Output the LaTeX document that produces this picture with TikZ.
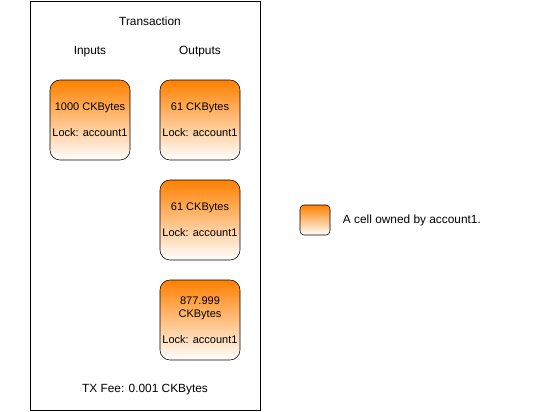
\documentclass[tikz,border=0pt]{standalone}
\usepackage{fontspec}
\setmainfont{Liberation Sans}
\usetikzlibrary{positioning}

\definecolor{cellorange}{RGB}{255,128,0}

\tikzset{
    cell/.style={draw, rounded corners=7.5pt, top color=cellorange, bottom color=white,
        minimum width=60pt, minimum height=60pt, align=center, inner sep=1pt,
        font=\fontsize{8.25}{10}\selectfont},
    lbl/.style={font=\fontsize{8.9}{10}\selectfont}
}

\begin{document}
\begin{tikzpicture}[x=0.75pt,y=-0.75pt]
\useasboundingbox (0,0) rectangle (541,411);

\node[draw, minimum width=172.5pt, minimum height=306.75pt, inner sep=0pt] (tx) at (145,205.5) {};

\node[lbl] (title) at (150,21) {Transaction};
\node[lbl] (inputs) at (90,51.5) {Inputs};
\node[lbl] (outputs) at (200,51.5) {Outputs};

\node[cell] (in1) at (90,120) {1000 CKBytes\\[9.5pt]Lock: account1};

\foreach \y/\cap/\name in
    {120/61 CKBytes/out1,
     220/61 CKBytes/out2,
     320/877.999\\CKBytes/out3}
    {
    \node[cell] (\name) at (200,\y) {\cap\\[9.5pt]Lock: account1};
    }

\node[lbl] (fee) at (145,390) {TX Fee: 0.001 CKBytes};

% legend
\node[cell, minimum width=22.5pt, minimum height=22.5pt, rounded corners=3pt] (key) at (315,220) {};
\node[lbl, right=6pt of key] (keytext) {A cell owned by account1.};

\end{tikzpicture}
\end{document}
